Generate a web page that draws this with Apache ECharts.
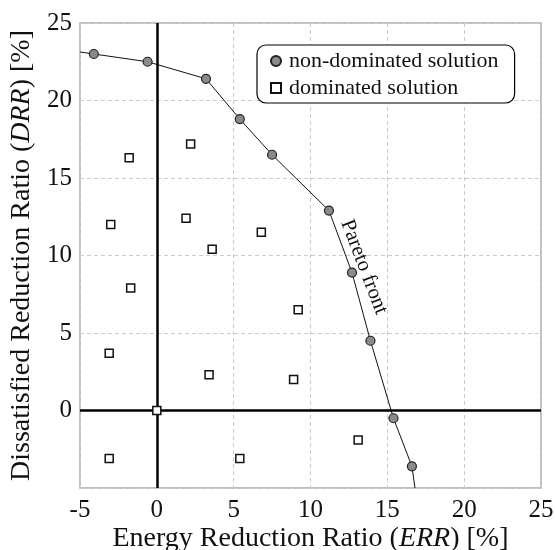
<!DOCTYPE html>
<html>
<head>
<meta charset="utf-8">
<script src="https://cdn.jsdelivr.net/npm/echarts@6/dist/echarts.min.js"></script>
<style>
  html, body { margin: 0; padding: 0; background: #fff; }
  #chart { width: 555px; height: 550px; }
</style>
</head>
<body>
<div id="chart"></div>
<script>
// ERR / DRR pairs [%]
const nonDominated = [
  [-4.1, 23.0], [-0.6, 22.5], [3.2, 21.4], [5.4, 18.8], [7.5, 16.5],
  [11.2, 12.9], [12.7, 8.9], [13.9, 4.5], [15.4, -0.5], [16.6, -3.6]
];
const dominated = [
  [2.2, 17.2], [-1.8, 16.3], [-3.0, 12.0], [1.9, 12.4], [6.8, 11.5],
  [3.6, 10.4], [-1.7, 7.9], [9.2, 6.5], [-3.1, 3.7], [3.4, 2.3],
  [8.9, 2.0], [0.0, 0.0], [-3.1, -3.1], [5.4, -3.1], [13.1, -1.9]
];
// where the Pareto front curve meets the plot edges
const frontStart = [-5.0, 23.13];
const frontEnd = [16.8, -5.0];
const xTicks = [-5, 0, 5, 10, 15, 20, 25];
const yTicks = [-5, 0, 5, 10, 15, 20, 25];

const FONT = '"Liberation Serif", "Times New Roman", serif';
const frontCurve = [frontStart].concat(nonDominated, [frontEnd]);

const chart = echarts.init(document.getElementById('chart'), null, { renderer: 'canvas' });

const option = {
  animation: false,
  backgroundColor: '#fff',
  textStyle: { fontFamily: FONT },
  grid: {
    left: 80, right: 14, top: 23, bottom: 62,
    containLabel: false,
    outerBoundsMode: 'none',
    show: true, borderColor: '#aaa', borderWidth: 1.5, backgroundColor: 'transparent'
  },
  legend: {
    left: 257, top: 45,
    orient: 'vertical',
    padding: [4, 16, 3, 13],
    itemGap: 3,
    itemWidth: 10, itemHeight: 10,
    borderColor: '#000', borderWidth: 1.2, borderRadius: 9,
    backgroundColor: '#fff',
    textStyle: { fontFamily: FONT, fontSize: 22, color: '#111', lineHeight: 24, padding: [0, 0, 0, 3] },
    data: ['non-dominated solution', 'dominated solution']
  },
  xAxis: {
    type: 'value',
    min: xTicks[0], max: xTicks[xTicks.length - 1], interval: 5,
    axisLine: { show: false }, axisTick: { show: false },
    splitLine: { lineStyle: { color: '#ccc', type: [4, 3], width: 1 } },
    axisLabel: { fontFamily: FONT, fontSize: 25, color: '#111', margin: 10,
      formatter: v => xTicks.includes(v) ? String(v) : '' },
    name: 'Energy Reduction Ratio ({i|ERR}) [%]',
    nameLocation: 'middle', nameGap: 37, nameMoveOverlap: false,
    nameTextStyle: { fontFamily: FONT, fontSize: 28, color: '#111',
      rich: { i: { fontFamily: FONT, fontSize: 28, fontStyle: 'italic', color: '#111' } } }
  },
  yAxis: {
    type: 'value',
    min: yTicks[0], max: yTicks[yTicks.length - 1], interval: 5,
    axisLine: { show: false }, axisTick: { show: false },
    splitLine: { lineStyle: { color: '#ccc', type: [4, 3], width: 1 } },
    axisLabel: { fontFamily: FONT, fontSize: 25, color: '#111', margin: 8,
      formatter: v => (v === yTicks[0] || !yTicks.includes(v)) ? '' : String(v) },
    name: 'Dissatisfied Reduction Ratio ({i|DRR}) [%]',
    nameLocation: 'middle', nameGap: 40, nameRotate: 90,
    nameTextStyle: { fontFamily: FONT, fontSize: 28, color: '#111',
      rich: { i: { fontFamily: FONT, fontSize: 28, fontStyle: 'italic', color: '#111' } } }
  },
  series: [
    {
      name: 'Pareto front',
      type: 'line',
      data: frontCurve,
      showSymbol: false,
      clip: true,
      z: 3,
      lineStyle: { color: '#111', width: 1 },
      markLine: {
        silent: true,
        symbol: 'none',
        label: { show: false },
        lineStyle: { color: '#000', width: 2.5, type: 'solid' },
        data: [{ xAxis: 0 }, { yAxis: 0 }]
      }
    },
    {
      name: 'non-dominated solution',
      type: 'scatter',
      data: nonDominated,
      symbol: 'circle',
      symbolSize: 9,
      z: 5,
      itemStyle: { color: '#8a8a8a', borderColor: '#222', borderWidth: 1.2, opacity: 1 }
    },
    {
      name: 'dominated solution',
      type: 'scatter',
      data: dominated,
      symbol: 'rect',
      symbolSize: 8,
      z: 5,
      itemStyle: { color: '#fff', borderColor: '#111', borderWidth: 1.5, opacity: 1 }
    }
  ]
};

chart.setOption(option);

// rotated caption running along the front
const labelAt = chart.convertToPixel({ gridIndex: 0 }, [13.48, 9.26]);
chart.setOption({
  graphic: [{
    type: 'text',
    x: labelAt[0], y: labelAt[1],
    rotation: -69 * Math.PI / 180,
    z: 10,
    style: {
      text: 'Pareto front',
      fontFamily: FONT, fontSize: 21, fill: '#111',
      align: 'center', verticalAlign: 'middle'
    }
  }]
});
</script>
</body>
</html>
